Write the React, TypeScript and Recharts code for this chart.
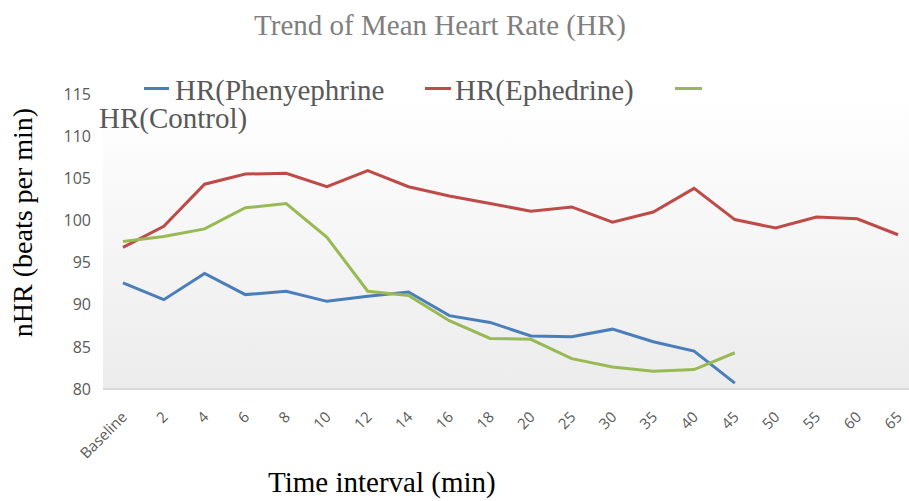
import React from "react";
import { LineChart, Line, XAxis, YAxis, CartesianGrid } from "recharts";

const categories = ["Baseline", "2", "4", "6", "8", "10", "12", "14", "16", "18", "20", "25", "30", "35", "40", "45", "50", "55", "60", "65"];

const phenylephrine = [92.6, 90.6, 93.7, 91.2, 91.6, 90.4, 91.0, 91.5, 88.7, 87.9, 86.3, 86.2, 87.1, 85.6, 84.5, 80.7];
const ephedrine = [96.8, 99.3, 104.3, 105.5, 105.6, 104.0, 105.9, 104.0, 102.9, 102.0, 101.1, 101.6, 99.8, 101.0, 103.8, 100.1, 99.1, 100.4, 100.2, 98.3];
const control = [97.5, 98.1, 99.0, 101.5, 102.0, 98.0, 91.6, 91.1, 88.1, 86.0, 85.9, 83.6, 82.6, 82.1, 82.3, 84.3];

const yTicks = [80, 85, 90, 95, 100, 105, 110, 115];

const COLORS = {
  phen: "#4a7ebb",
  eph: "#be4b48",
  ctrl: "#98b954",
  text: "#595959",
  legend: "#595959",
};

const data = categories.map((c, i) => ({
  time: c,
  phen: phenylephrine[i] ?? null,
  eph: ephedrine[i] ?? null,
  ctrl: control[i] ?? null,
}));

const serif = "'Liberation Serif', 'DejaVu Serif', serif";
const sans = "'Open Sans', 'Liberation Sans', sans-serif";

function XTick({ x, y, payload }: any) {
  const ax = x + 5;
  return (
    <text
      x={ax}
      y={y}
      transform={`rotate(-45, ${ax}, ${y})`}
      textAnchor="end"
      fontSize={15}
      fontFamily={sans}
      fill={COLORS.text}
    >
      {payload.value}
    </text>
  );
}

const legendText: React.CSSProperties = {
  position: "absolute",
  fontFamily: serif,
  fontSize: 29,
  color: COLORS.legend,
  lineHeight: 1,
  whiteSpace: "nowrap",
};

function swatch(color: string, left: number, width: number) {
  return <div style={{ position: "absolute", left, top: 87, width, height: 3, background: color }} />;
}

export default function App() {
  return (
    <div style={{ position: "absolute", left: 0, top: 0, width: 909, height: 501, background: "#fff", overflow: "hidden" }}>
      <LineChart width={909} height={501} data={data} margin={{ top: 94, right: 0, bottom: 0, left: 0 }}>
        <defs>
          <linearGradient id="plotBg" x1="0" y1="0" x2="0" y2="1">
            <stop offset="0%" stopColor="#ffffff" />
            <stop offset="100%" stopColor="#ececec" />
          </linearGradient>
        </defs>
        <CartesianGrid horizontal={false} vertical={false} fill="url(#plotBg)" />
        <XAxis
          dataKey="time"
          interval={0}
          padding={{ left: 20, right: 11 }}
          height={112}
          tickLine={false}
          tickSize={0}
          tickMargin={29}
          axisLine={{ stroke: "#d9d9d9", strokeWidth: 2 }}
          tick={<XTick />}
        />
        <YAxis
          domain={[80, 115]}
          ticks={yTicks}
          interval={0}
          width={103}
          axisLine={false}
          tickLine={false}
          tickSize={0}
          tickMargin={12}
          tick={{ fontSize: 16, fontFamily: sans, fill: COLORS.text }}
          label={{
            value: "nHR (beats per min)",
            angle: -90,
            position: "insideLeft",
            offset: 22,
            dy: -19,
            style: { textAnchor: "middle", fontFamily: serif, fontSize: 28, fill: "#000" },
          }}
        />
        <Line type="linear" dataKey="phen" name="HR(Phenyephrine" stroke={COLORS.phen} strokeWidth={3} dot={false} isAnimationActive={false} />
        <Line type="linear" dataKey="eph" name="HR(Ephedrine)" stroke={COLORS.eph} strokeWidth={3} dot={false} isAnimationActive={false} />
        <Line type="linear" dataKey="ctrl" name="HR(Control)" stroke={COLORS.ctrl} strokeWidth={3} dot={false} isAnimationActive={false} />
      </LineChart>

      <div
        style={{
          position: "absolute",
          top: 11,
          left: 0,
          width: 880,
          textAlign: "center",
          fontFamily: serif,
          fontSize: 29,
          color: "#7f7f7f",
          lineHeight: 1,
        }}
      >
        Trend of Mean Heart Rate (HR)
      </div>

      {swatch(COLORS.phen, 144, 25)}
      <div style={{ ...legendText, left: 175, top: 76 }}>HR(Phenyephrine</div>
      {swatch(COLORS.eph, 425, 26)}
      <div style={{ ...legendText, left: 455, top: 76 }}>HR(Ephedrine)</div>
      {swatch(COLORS.ctrl, 675, 27)}
      <div style={{ ...legendText, left: 99, top: 104 }}>HR(Control)</div>

      <div
        style={{
          position: "absolute",
          top: 468,
          left: 268,
          fontFamily: serif,
          fontSize: 29,
          color: "#000",
          lineHeight: 1,
          whiteSpace: "nowrap",
        }}
      >
        Time interval (min)
      </div>
    </div>
  );
}
